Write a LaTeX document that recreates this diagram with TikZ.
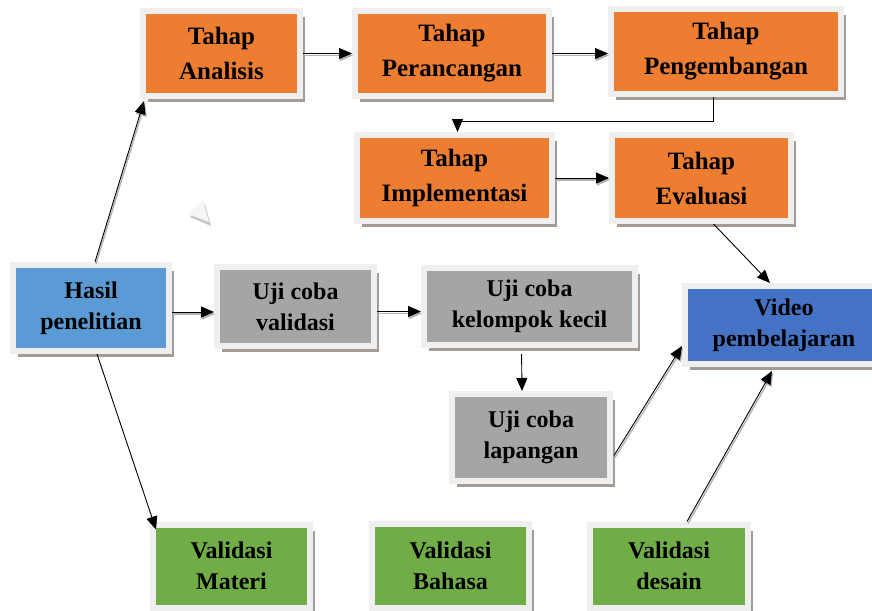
\documentclass[tikz,border=0pt]{standalone}
\usepackage{fontspec}
\setmainfont{Liberation Serif}
\usepackage{tikz}
\usetikzlibrary{calc,arrows.meta,shadows}
\definecolor{tahaporange}{HTML}{ED7D31}
\definecolor{hasilblue}{HTML}{5B9BD5}
\definecolor{ujigray}{HTML}{A5A5A5}
\definecolor{videoblue}{HTML}{4472C4}
\definecolor{validgreen}{HTML}{70AD47}
\definecolor{framegray}{HTML}{EFEFEF}
\definecolor{shadegray}{HTML}{A39B95}
\tikzset{
  box/.style={draw=framegray,line width=6pt,inner sep=0pt,align=center,
    font=\bfseries\fontsize{24}{31}\selectfont,
    drop shadow={shadow xshift=5pt,shadow yshift=-6pt,fill=shadegray,opacity=1}},
  tahapbox/.style={box,fill=tahaporange,font=\bfseries\fontsize{25}{35}\selectfont},
  link/.style={draw=black,line width=0.9pt,-{Triangle[length=13pt,width=11pt]},
    preaction={draw=gray!60,line width=1.4pt,transform canvas={xshift=1pt,yshift=-2pt}}},
  plainlink/.style={draw=black,line width=0.9pt,-{Triangle[length=13pt,width=11pt]}}
}

\begin{document}
\begin{tikzpicture}[x=1pt,y=-1pt]
  \useasboundingbox (0,0) rectangle (872,610);
  % tahap (orange)
  \node[tahapbox,minimum width=157pt,minimum height=85pt] (ana) at (221.5,53.5) {Tahap\\Analisis};
  \node[tahapbox,minimum width=194pt,minimum height=85pt] (per) at (452,53.5) {Tahap\\Perancangan};
  \node[tahapbox,minimum width=230pt,minimum height=85pt] (peng) at (726,51.5) {Tahap\\Pengembangan};
  \node[tahapbox,minimum width=195pt,minimum height=86pt] (impl) at (454.5,178) {Tahap\\Implementasi};
  \node[tahapbox,minimum width=179pt,minimum height=86pt] (eval) at (701.5,178) {Tahap\\Evaluasi};
  % hasil, uji coba, video
  \node[box,fill=hasilblue,minimum width=156pt,minimum height=86pt] (hasil) at (91,308) {Hasil\\penelitian};
  \node[box,fill=ujigray,minimum width=157pt,minimum height=79pt] (val) at (295.5,306.5) {Uji coba\\validasi};
  \node[box,fill=ujigray,minimum width=211pt,minimum height=77pt] (kel) at (529.5,306.5) {Uji coba\\kelompok kecil};
  \node[box,fill=ujigray,minimum width=158pt,minimum height=87pt] (lap) at (531,437.5) {Uji coba\\lapangan};
  \node[box,fill=videoblue,minimum width=198pt,minimum height=78pt] (video) at (784,325) {Video\\pembelajaran};
  % validasi (green)
  \node[box,fill=validgreen,minimum width=157pt,minimum height=83pt] (mat) at (231.5,566) {Validasi\\Materi};
  \node[box,fill=validgreen,minimum width=157pt,minimum height=84pt] (bah) at (450.5,566) {Validasi\\Bahasa};
  \node[box,fill=validgreen,minimum width=158pt,minimum height=83pt] (des) at (669,566) {Validasi\\desain};
  % stray mark
  \fill[gray!45] (190,217) -- (205,204) -- (211,226) -- cycle;
  \fill[gray!8] (188,214) -- (203,200) -- (209,222) -- cycle;
  % connectors
  \draw[link] (ana.east) -- (ana.east -| per.west);
  \draw[link] (per.east) -- (per.east -| peng.west);
  \coordinate (bend) at (713,121);
  \draw[plainlink] (peng.south -| bend) -- (bend) -| ([xshift=3pt]impl.north);
  \draw[link] (impl.east) -- (impl.east -| eval.west);
  \draw[plainlink] ([xshift=12pt]eval.south) -- ([xshift=-14pt]video.north);
  \draw[link] ([xshift=4pt]hasil.north) -- ([xshift=4pt,yshift=-2pt]ana.south west);
  \draw[link] ([yshift=-4pt]hasil.east) -- ([yshift=-4pt]hasil.east -| val.west);
  \draw[link] ([yshift=-5pt]val.east) -- ([yshift=-5pt]val.east -| kel.west);
  \draw[plainlink,shorten <=6pt] ([xshift=-8pt]kel.south) -- ([xshift=-9pt]lap.north);
  \draw[link] ([xshift=1pt,yshift=-18pt]lap.east) -- ([yshift=-21pt]video.west);
  \draw[link] ([xshift=18pt]des.north) -- ([xshift=-12pt,yshift=-4pt]video.south);
  \draw[plainlink] ([xshift=6pt]hasil.south) -- ([xshift=6pt,yshift=-8pt]mat.north west);
\end{tikzpicture}
\end{document}
